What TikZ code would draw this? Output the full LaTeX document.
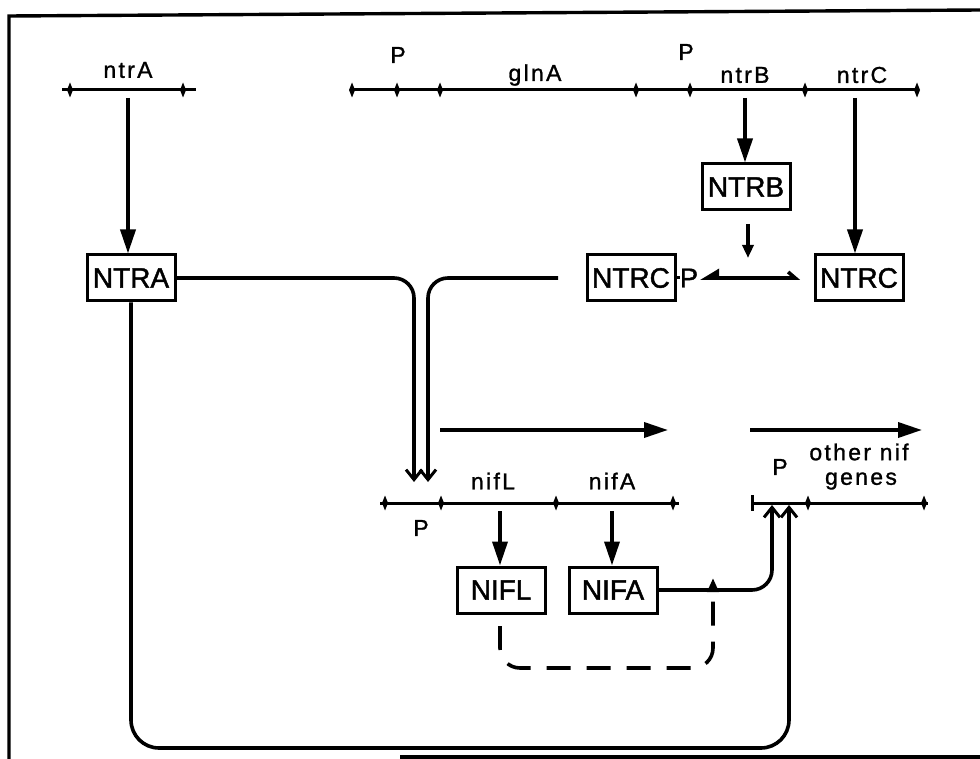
\documentclass[tikz,border=0pt]{standalone}
\usepackage{fontspec}
\setmainfont{Liberation Sans}[FakeBold=1.2]
\newfontfamily\lblfont[LetterSpace=10,FakeBold=1.2]{Liberation Sans}
\newfontfamily\boxfont[FakeBold=1.5]{Liberation Sans}
\usetikzlibrary{arrows.meta}
\begin{document}
\begin{tikzpicture}[x=1pt,y=-1pt,
  prot/.style={draw,line width=3pt,minimum width=88pt,minimum height=46pt,inner sep=0pt,font=\boxfont\fontsize{28}{30}\selectfont},
  lbl/.style={inner sep=0pt,font=\lblfont\fontsize{23}{26}\selectfont},
  gene/.style={line width=3pt},
  conn/.style={line width=3.6pt},
  bigtip/.style={-{Triangle[length=24pt,width=15pt]}},
  smalltip/.style={-{Triangle[length=13pt,width=11pt]}},
  vtip/.style={-{Straight Barb[length=10pt,width=16pt,line width=3pt]}},
  frame/.style={line width=3.4pt}]
\useasboundingbox (0,0) rectangle (980,759);
% frame
\draw[frame] (9,759) -- (9,16) -- (980,10);
\draw[frame] (400,757) -- (980,757);
% gene lines
\draw[gene] (62,90) -- (196,90);
\draw[gene] (352,90) -- (919,90);
\draw[gene] (380,503) -- (679,503);
\draw[gene] (752,503) -- (928,503);
\foreach \x/\y in {70/90,183/90,352/90,397/90,440/90,636/90,690/90,805/90,917/90,385/503,441/503,556/503,673/503,808/503,924/503}
  \fill (\x,\y-7.5) -- (\x+3,\y) -- (\x,\y+7.5) -- (\x-3,\y) -- cycle;
\draw[line width=3pt] (752,495) -- (752,511);
% labels
\node[lbl] (lntrA) at (128,70) {ntrA};
\node[lbl] (lP1) at (398,55) {P};
\node[lbl] (lglnA) at (535,75) {glnA};
\node[lbl] (lP2) at (686,52) {P};
\node[lbl] (lntrB) at (745,75) {ntrB};
\node[lbl] (lntrC) at (862,75) {ntrC};
\node[lbl] (lP3) at (421,528) {P};
\node[lbl] (lnifL) at (493,481) {nifL};
\node[lbl] (lnifA) at (612,481) {nifA};
\node[lbl] (lP4) at (780,467) {P};
\node[lbl] (lother) at (859,452) {other nif};
\node[lbl] (lgenes) at (861,481) {genes};
% proteins
\node[prot] (NTRA) at (131,278) {NTRA};
\node[prot] (NTRB) at (746,187) {NTRB};
\node[prot] (NTRCP) at (631,278) {NTRC};
\node[inner sep=0pt,font=\boxfont\fontsize{27}{30}\selectfont] (Pp) at (689,278) {P};
\node[prot] (NTRC) at (859,278) {NTRC};
\node[prot] (NIFL) at (501,590) {NIFL};
\node[prot] (NIFA) at (613,590) {NIFA};
% coordinates
\coordinate (sA) at (128,98);
\coordinate (sB) at (745,98);
\coordinate (sC) at (855,98);
\coordinate (sL) at (500,511);
\coordinate (sNA) at (612,511);
\coordinate (bB) at (748,224);
\coordinate (eB) at (748,258);
\coordinate (rL) at (700,278);
\coordinate (rR) at (800,278);
\coordinate (cP) at (558,278);
\coordinate (t1) at (414,482);
\coordinate (t2) at (428,482);
\coordinate (u1) at (772,505);
\coordinate (u2) at (789,505);
\coordinate (ds) at (500,626);
\coordinate (de) at (713,578);
\coordinate (h1) at (440,430);
\coordinate (h2) at (668,430);
\coordinate (h3) at (750,430);
\coordinate (h4) at (922,430);
% arrows
\draw[conn,bigtip] (sA) -- (sA |- NTRA.north);
\draw[conn,bigtip] (sB) -- (sB |- NTRB.north);
\draw[conn,bigtip] (sC) -- (sC |- NTRC.north);
\draw[conn,bigtip] (sL) -- (sL |- NIFL.north);
\draw[conn,bigtip] (sNA) -- (sNA |- NIFA.north);
\draw[conn,smalltip] (bB) -- (eB);
\draw[conn,bigtip] (h1) -- (h2);
\draw[conn,bigtip] (h3) -- (h4);
\draw[line width=3pt] (NTRCP.east) -- (Pp.west);
\draw[conn,{Triangle[harpoon,swap,length=16pt,width=18pt]}-{Straight Barb[harpoon,length=7pt,width=12pt]}] (rL) -- (rR);
\draw[conn,vtip,rounded corners=20pt] (NTRA.east) -- (t1 |- NTRA.east) -- (t1);
\draw[conn,vtip,rounded corners=20pt] (cP) -- (t2 |- cP) -- (t2);
\draw[conn,vtip,rounded corners=20pt] (NIFA.east) -- (u1 |- NIFA.east) -- (u1);
\draw[conn,vtip,rounded corners=28pt] (NTRA.south) -- (NTRA.south |- 0,748) -- (u2 |- 0,748) -- (u2);
\draw[conn,dash pattern=on 24pt off 16pt,rounded corners=20pt,-{Triangle[length=14pt,width=11pt]}] (ds) -- (ds |- 0,668) -- (de |- 0,668) -- (de);
\end{tikzpicture}
\end{document}
